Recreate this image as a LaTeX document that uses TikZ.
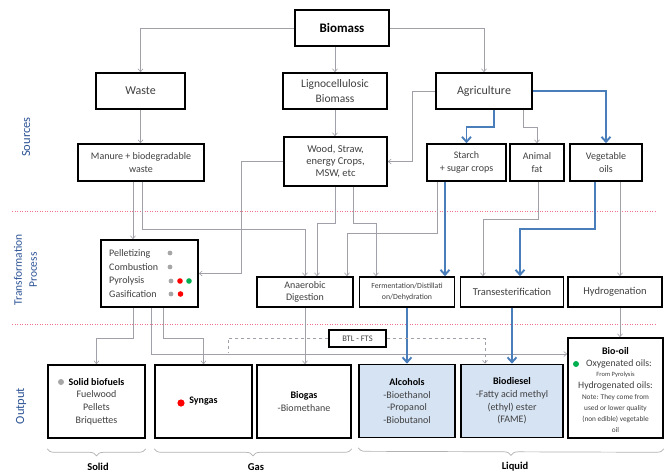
\documentclass[tikz,border=0pt]{standalone}
\usepackage{fontspec}
\setmainfont{Carlito}
\usetikzlibrary{arrows.meta,calc,decorations.pathreplacing}
\definecolor{sidecol}{HTML}{2F5597}
\definecolor{bluecon}{HTML}{4A7EBB}
\definecolor{graycon}{HTML}{A0A0A8}
\definecolor{txt}{HTML}{404040}
\definecolor{sepred}{HTML}{F07088}
\definecolor{liqfill}{HTML}{D6E3F3}
\definecolor{dotgray}{HTML}{A6A6A6}
\definecolor{dotgreen}{HTML}{00B050}
\newcommand{\bt}[1]{\textcolor{black}{\textbf{#1}}}
\begin{document}
\begin{tikzpicture}[x=1pt,y=-1pt,
  box/.style={draw=black,line width=1.6pt,align=center,inner sep=1pt,text=txt,fill=white},
  fs/.style 2 args={font=\fontsize{#1}{#2}\selectfont},
  fsb/.style 2 args={font=\fontsize{#1}{#2}\selectfont\bfseries},
  conn/.style={draw=graycon,line width=0.6pt,-{Straight Barb[length=3pt,width=5pt]}},
  blueconn/.style={draw=bluecon,line width=1.9pt,-{Straight Barb[length=5pt,width=9pt]}},
  sepline/.style={draw=sepred,line width=0.9pt,dash pattern=on 1pt off 1.5pt},
  side/.style={text=sidecol,rotate=90,align=center},
  brc/.style={decorate,decoration={brace,mirror,amplitude=7pt},draw=gray!60,line width=0.7pt},
  plain/.style={text=txt,align=center,inner sep=0pt}
]
\fill[white] (0,0) rectangle (665,475);
\useasboundingbox (0,0) rectangle (665,475);

% separators
\draw[sepline] (12,211) -- (656,211);
\draw[sepline] (12,324) -- (656,324);

% side labels
\node[side,fs={12.5}{14}] (srcl) at (26,137) {Sources};
\node[side,fs={11.5}{15}] (trl) at (25.5,270) {Transformation\\Process};
\node[side,fs={12.5}{14}] (outl) at (21,406) {Output};

% sources
\node[box,minimum width=94,minimum height=36,fsb={13}{15},text=black] (biomass) at (342,28) {Biomass};
\node[box,minimum width=89,minimum height=36,fs={12}{14}] (waste) at (140.5,91) {Waste};
\node[box,minimum width=104,minimum height=36,fs={11.5}{15}] (ligno) at (335,91) {Lignocellulosic\\Biomass};
\node[box,minimum width=96,minimum height=36,fs={12}{14}] (agri) at (484,91) {Agriculture};
\node[box,minimum width=126,minimum height=37,fs={10}{13}] (manure) at (141,162.5) {Manure + biodegradable\\waste};
\node[box,minimum width=103,minimum height=49,fs={10.5}{12}] (wood) at (335.5,161.5) {Wood, Straw,\\energy Crops,\\MSW, etc};
\node[box,minimum width=79,minimum height=37,fs={10}{13}] (starch) at (466.5,162.5) {Starch\\+ sugar crops};
\node[box,minimum width=54,minimum height=37,fs={10}{13}] (animal) at (537,162.5) {Animal\\fat};
\node[box,minimum width=72,minimum height=37,fs={10}{13}] (veg) at (606,162.5) {Vegetable\\oils};

% transformation
\node[box,minimum width=97,minimum height=67] (pel) at (149.5,273.5) {};
\node[plain,anchor=west,align=left,fs={10}{13.5}] (peltext) at (109,273.5) {Pelletizing\\Combustion\\Pyrolysis\\Gasification};
\fill[dotgray] (170,253) circle (2.4pt);
\fill[dotgray] (170,267) circle (2.4pt);
\fill[dotgray] (171,281) circle (2.4pt);
\fill[red] (180,281) circle (2.8pt);
\fill[dotgreen] (189,281) circle (2.8pt);
\fill[dotgray] (171,294) circle (2.4pt);
\fill[red] (180.5,294) circle (2.8pt);
\node[box,minimum width=96,minimum height=30,fs={10}{12.5}] (anaer) at (305,292) {Anaerobic\\Digestion};
\node[box,minimum width=95,minimum height=30,fs={7.8}{10.5}] (ferm) at (407,292) {Fermentation/Distillati\\on/Dehydration};
\node[box,minimum width=103,minimum height=30,fs={10.5}{12}] (trans) at (512,292) {Transesterification};
\node[box,minimum width=94,minimum height=30,fs={10.5}{12}] (hydro) at (615,292) {Hydrogenation};
\node[box,line width=1.3pt,minimum width=57,minimum height=17,fs={8.5}{10}] (btl) at (357.5,338.5) {BTL - FTS};

% outputs
\node[box,minimum width=97,minimum height=73,fs={10}{12.7}] (solid) at (96.5,401.5) {\bt{Solid biofuels}\\Fuelwood\\Pellets\\Briquettes};
\fill[dotgray] (61,382) circle (3pt);
\node[box,minimum width=97,minimum height=73,fs={10}{12.7}] (syngas) at (203.5,401.5) {\bt{Syngas}};
\fill[red] (181,403) circle (3.6pt);
\node[box,minimum width=94,minimum height=73,fs={10}{12.7}] (biogas) at (304,401.5) {\bt{Biogas}\\-Biomethane};
\node[box,fill=liqfill,minimum width=96,minimum height=73,fs={10}{12.7}] (alc) at (407,401) {\bt{Alcohols}\\-Bioethanol\\-Propanol\\-Biobutanol};
\node[box,fill=liqfill,minimum width=102,minimum height=73,fs={10}{12.7}] (biod) at (512,401) {\bt{Biodiesel}\\-Fatty acid methyl\\(ethyl) ester\\(FAME)};
\node[box,minimum width=95,minimum height=100] (biooil) at (615.5,388) {};
\node[plain,fs={10}{12}] (bo1) at (615.5,351) {\bt{Bio-oil}};
\node[plain,fs={9.8}{12}] (bo2) at (619,364) {Oxygenated oils:};
\fill[dotgreen] (576,364) circle (3pt);
\node[plain,fs={6.5}{8}] (bo3) at (615.5,375) {From Pyrolysis};
\node[plain,fs={9.8}{12}] (bo4) at (615.5,386) {Hydrogenated oils:};
\node[plain,fs={7.3}{11}] (bo5) at (615.5,413.5) {Note: They come from\\used or lower quality\\(non edible) vegetable\\oil};

% braces and labels
\draw[brc] ([yshift=-10pt]solid.south west) -- ([yshift=-10pt]solid.south east);
\draw[brc] ([yshift=-10pt]syngas.south west) -- ([yshift=-10pt]biogas.south east);
\draw[brc] ([yshift=-9.5pt]alc.south west) -- ([yshift=-10pt]biooil.south east);
\node[plain,fsb={10.5}{12},text=black] (solidl) at (98,467) {Solid};
\node[plain,fsb={10.5}{12},text=black] (gasl) at (256,467) {Gas};
\node[plain,fsb={10.5}{12},text=black] (liql) at (515,467) {Liquid};

% connectors: sources
\draw[conn] (biomass.west) -| (waste.north);
\draw[conn] (biomass.south -| ligno.north) -- (ligno.north);
\draw[conn] (biomass.east) -| (agri.north);
\draw[conn] (waste.south) -- (waste.south |- manure.north);
\draw[conn] (ligno.south) -- (ligno.south |- wood.north);
\draw[conn] (agri.west) -- ++(-23,0) |- (wood.east);
\draw[blueconn] ([xshift=10pt]agri.south) -- ++(0,17) -| (starch.north);
\draw[conn] ([xshift=39pt]agri.south) -- ++(0,17) -| (animal.north);
\draw[blueconn] (agri.east) -| (veg.north);

% connectors: to transformation
\draw[conn] ([xshift=-8pt]manure.south) -- ([xshift=-8pt]manure.south |- pel.north);
\draw[conn] ([xshift=1pt]manure.south) -- ++(0,47) -| (anaer.north);
\draw[conn] (wood.west) -- ++(-42,0) |- (pel.east);
\draw[conn] (wood.south) -- ++(0,36) -| ([xshift=12pt]anaer.north);
\draw[conn] ([xshift=17.5pt]wood.south) -- ++(0,36) -| ([xshift=-31pt]ferm.north);
\draw[conn] ([xshift=-29.5pt]starch.south) -- ++(0,51) -| ([xshift=42pt]anaer.north);
\draw[blueconn] ([xshift=-21.5pt]starch.south) -- ([xshift=-21.5pt]starch.south |- ferm.north);
\draw[conn] ([xshift=1pt]animal.south) -- ++(0,37) -| ([xshift=-29pt]trans.north);
\draw[blueconn] ([xshift=-11pt]veg.south) -- ++(0,47) -| ([xshift=8pt]trans.north);
\draw[conn] ([xshift=14pt]veg.south) -- ([xshift=14pt]veg.south |- hydro.north);

% connectors: to outputs
\draw[conn] ([xshift=-16.5pt]pel.south) -- ++(0,30) -| (solid.north);
\draw[conn] ([xshift=13.5pt]pel.south) -- ++(0,30) -| (syngas.north);
\draw[conn] ([xshift=1.5pt]pel.south) |- ([yshift=34pt]biooil.west);
\draw[conn] (anaer.south) -- (anaer.south |- biogas.north);
\draw[blueconn] (ferm.south) -- (ferm.south |- alc.north);
\draw[blueconn] (trans.south) -- (trans.south |- biod.north);
\draw[conn] ([xshift=5pt]hydro.south) -- ([xshift=5pt]hydro.south |- biooil.north);
\draw[conn,dashed] (btl.east) -| ([xshift=-27pt]biod.north);
\draw[draw=graycon,line width=0.6pt,dashed] (btl.west) -| ([xshift=24.5pt,yshift=11pt]syngas.north);
\end{tikzpicture}
\end{document}
